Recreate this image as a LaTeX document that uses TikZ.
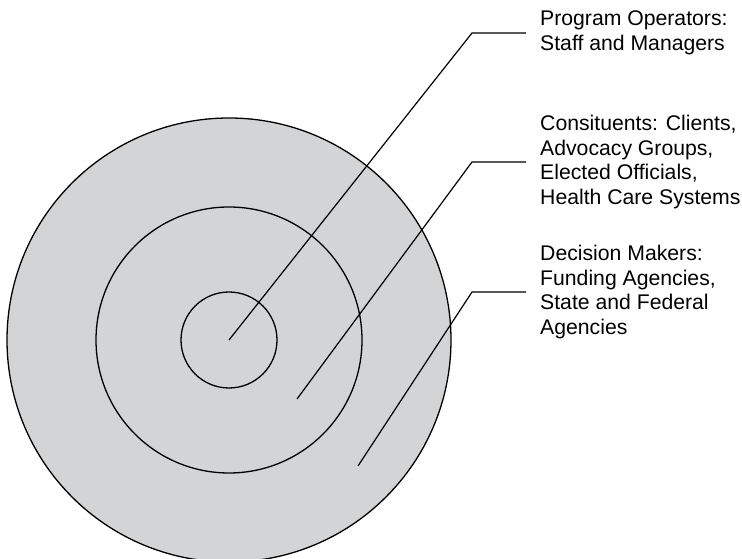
\documentclass[tikz,border=0pt]{standalone}
\usepackage{fontspec}
\setmainfont{Liberation Sans}
\usetikzlibrary{positioning}
\definecolor{ringgray}{RGB}{211,212,214}

\begin{document}
\begin{tikzpicture}[x=1pt,y=1pt,
	ring/.style={circle,draw,line width=1.3pt,inner sep=0pt},
	leader/.style={line width=1.2pt,shorten >=14pt},
	tag/.style={anchor=west,align=left,inner sep=0pt,font=\fontsize{21.2}{24.5}\selectfont}]
	\useasboundingbox (0,0) rectangle (742,559);
	
	% the three rings
	\node[ring,fill=ringgray,minimum size=444pt] (outer) at (229,219) {};
	\node[ring,minimum size=266pt] (middle) at (229,219) {};
	\node[ring,minimum size=96pt] (core) at (229,219) {};
	
	% labels
	\node[tag] (ops) at (540,526) {Program Operators:\\Staff and Managers};
	\node[tag] (cons) at (540,397) {Consituents: Clients,\\Advocacy Groups,\\Elected Officials,\\Health Care Systems};
	\node[tag] (dec) at (540,267) {Decision Makers:\\Funding Agencies,\\State and Federal\\Agencies};
	
	\coordinate (opsbend) at (472,526);
	\coordinate (consfoot) at (297,160);
	\coordinate (consbend) at (472,397);
	\coordinate (decfoot) at (358,93);
	\coordinate (decbend) at (472,267);
	
	\draw[leader] (core.center) -- (opsbend) -- (ops.west);
	\draw[leader] (consfoot) -- (consbend) -- (cons.west);
	\draw[leader] (decfoot) -- (decbend) -- (dec.west);
\end{tikzpicture}
\end{document}
